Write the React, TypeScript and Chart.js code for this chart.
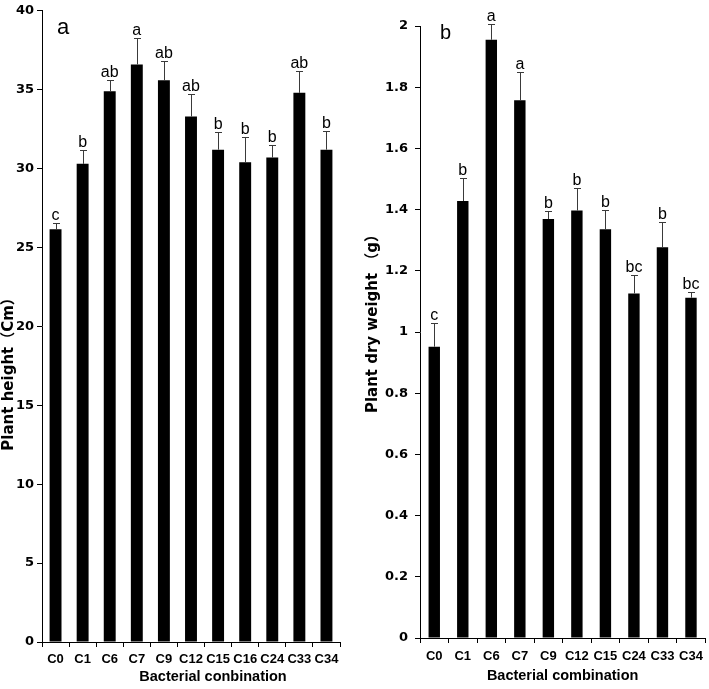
import React, { useEffect, useRef } from 'react';
import { Chart, registerables } from 'chart.js';

Chart.register(...registerables);

const FONT = '"Liberation Sans", Arial, "Noto Sans CJK SC", sans-serif';
const WIDE_FONT = '"DejaVu Sans", "Noto Sans CJK SC", sans-serif';

// Panel a: plant height
const heightCategories = ['C0', 'C1', 'C6', 'C7', 'C9', 'C12', 'C15', 'C16', 'C24', 'C33', 'C34'];
const heightMeans = [26.15, 30.3, 34.9, 36.6, 35.6, 33.3, 31.2, 30.4, 30.7, 34.8, 31.2];
const heightErrors = [0.4, 0.9, 0.7, 1.7, 1.2, 1.4, 1.1, 1.6, 0.8, 1.4, 1.2];
const heightLetters = ['c', 'b', 'ab', 'a', 'ab', 'ab', 'b', 'b', 'b', 'ab', 'b'];

// Panel b: plant dry weight
const weightCategories = ['C0', 'C1', 'C6', 'C7', 'C9', 'C12', 'C15', 'C24', 'C33', 'C34'];
const weightMeans = [0.952, 1.428, 1.955, 1.757, 1.369, 1.397, 1.336, 1.126, 1.277, 1.112];
const weightErrors = [0.078, 0.075, 0.05, 0.092, 0.027, 0.073, 0.064, 0.059, 0.082, 0.019];
const weightLetters = ['c', 'b', 'a', 'a', 'b', 'b', 'b', 'bc', 'b', 'bc'];

type PanelProps = {
  left: number;
  width: number;
  height: number;
  categories: string[];
  means: number[];
  errors: number[];
  letters: string[];
  yMax: number;
  yStep: number;
  yTitle: string;
  xTitle: string;
  panelLabel: string;
  panelFont: number;
  panelDx: number;
  panelDy: number;
  yAxisWidth: number;
  xAxisHeight: number;
  padTop: number;
  padRight: number;
  yTickPad: number;
  yTickSize: number;
  xTickPad: number;
  barPct: number;
  xTitleDx: number;
  xTitleY: number;
  yTitleX: number;
  yTitleDy: number;
};

function Panel(p: PanelProps) {
  const ref = useRef<HTMLCanvasElement | null>(null);
  useEffect(() => {
    if (!ref.current) return;
    const annot = {
      id: 'annot',
      afterDatasetsDraw(chart: any) {
        const { ctx, chartArea } = chart;
        const meta = chart.getDatasetMeta(0);
        const ys = chart.scales.y;
        ctx.save();
        meta.data.forEach((bar: any, i: number) => {
          const top = ys.getPixelForValue(p.means[i] + p.errors[i]);
          const x = Math.round(bar.x) + 0.5;
          const ty = Math.round(top) + 0.5;
          ctx.strokeStyle = '#3a3a3a';
          ctx.lineWidth = 1;
          ctx.beginPath();
          ctx.moveTo(x, bar.y);
          ctx.lineTo(x, ty);
          ctx.moveTo(x - 3.5, ty);
          ctx.lineTo(x + 3.5, ty);
          ctx.stroke();
          ctx.fillStyle = '#000';
          ctx.font = `16px ${FONT}`;
          ctx.textAlign = 'center';
          ctx.textBaseline = 'alphabetic';
          ctx.fillText(p.letters[i], bar.x, top - 3);
        });
        // panel label
        ctx.font = `${p.panelFont}px ${FONT}`;
        ctx.textAlign = 'left';
        ctx.textBaseline = 'alphabetic';
        ctx.fillStyle = '#000';
        ctx.fillText(p.panelLabel, chartArea.left + p.panelDx, chartArea.top + p.panelDy);
        // x title
        ctx.font = `bold 14.5px ${FONT}`;
        ctx.textAlign = 'center';
        ctx.textBaseline = 'middle';
        ctx.fillText(p.xTitle, (chartArea.left + chartArea.right) / 2 + p.xTitleDx, p.xTitleY);
        // y title
        ctx.save();
        ctx.translate(p.yTitleX, (chartArea.top + chartArea.bottom) / 2 + p.yTitleDy);
        ctx.rotate(-Math.PI / 2);
        ctx.font = `bold 15px ${WIDE_FONT}`;
        ctx.fillText(p.yTitle, 0, 0);
        ctx.restore();
        ctx.restore();
      },
    };
    const chart = new Chart(ref.current, {
      type: 'bar',
      data: {
        labels: p.categories,
        datasets: [
          {
            data: p.means,
            backgroundColor: '#000',
            borderWidth: 0,
            barPercentage: p.barPct,
            categoryPercentage: 1,
          },
        ],
      },
      options: {
        responsive: false,
        animation: false,
        devicePixelRatio: 1,
        layout: { padding: { top: p.padTop, right: p.padRight, left: 0, bottom: 0 } },
        plugins: { legend: { display: false }, tooltip: { enabled: false } },
        scales: {
          x: {
            afterFit: (s: any) => {
              s.height = p.xAxisHeight;
            },
            grid: { offset: true, drawOnChartArea: false, drawTicks: true, tickLength: 5, color: '#000' },
            border: { display: true, color: '#000', width: 1 },
            ticks: {
              autoSkip: false,
              maxRotation: 0,
              minRotation: 0,
              padding: p.xTickPad,
              color: '#000',
              font: { family: FONT, size: 13, weight: 'bold' },
            },
          },
          y: {
            min: 0,
            max: p.yMax,
            afterFit: (s: any) => {
              s.width = p.yAxisWidth;
            },
            grid: { drawOnChartArea: false, drawTicks: true, tickLength: 5, color: '#000' },
            border: { display: true, color: '#000', width: 1 },
            ticks: {
              stepSize: p.yStep,
              padding: p.yTickPad,
              color: '#000',
              font: { family: WIDE_FONT, size: p.yTickSize, weight: 'bold' },
              callback: (v: any) => String(parseFloat(Number(v).toFixed(1))),
            },
          },
        },
      },
      plugins: [annot],
    } as any);
    return () => chart.destroy();
  }, []);
  return (
    <canvas
      ref={ref}
      width={p.width}
      height={p.height}
      style={{ position: 'absolute', left: p.left, top: 0, width: p.width, height: p.height }}
    />
  );
}

export default function App() {
  return (
    <div style={{ position: 'absolute', left: 0, top: 0, width: 709, height: 689, background: '#fff' }}>
      <Panel
        left={0}
        width={352}
        height={689}
        categories={heightCategories}
        means={heightMeans}
        errors={heightErrors}
        letters={heightLetters}
        yMax={40}
        yStep={5}
        yTitle="Plant height（Cm）"
        xTitle="Bacterial conbination"
        panelLabel="a"
        panelFont={22}
        panelDx={15}
        panelDy={23}
        yAxisWidth={42}
        xAxisHeight={47}
        padTop={7}
        padRight={12}
        yTickPad={3}
        yTickSize={13}
        xTickPad={5}
        barPct={0.44}
        xTitleDx={22}
        xTitleY={677}
        yTitleX={9}
        yTitleDy={44}
      />
      <Panel
        left={360}
        width={349}
        height={689}
        categories={weightCategories}
        means={weightMeans}
        errors={weightErrors}
        letters={weightLetters}
        yMax={2}
        yStep={0.2}
        yTitle="Plant dry weight （g）"
        xTitle="Bacterial combination"
        panelLabel="b"
        panelFont={20}
        panelDx={20}
        panelDy={13}
        yAxisWidth={60}
        xAxisHeight={51}
        padTop={26}
        padRight={2}
        yTickPad={7}
        yTickSize={13}
        xTickPad={6}
        barPct={0.4}
        xTitleDx={0}
        xTitleY={676}
        yTitleX={13}
        yTitleDy={-12}
      />
    </div>
  );
}
